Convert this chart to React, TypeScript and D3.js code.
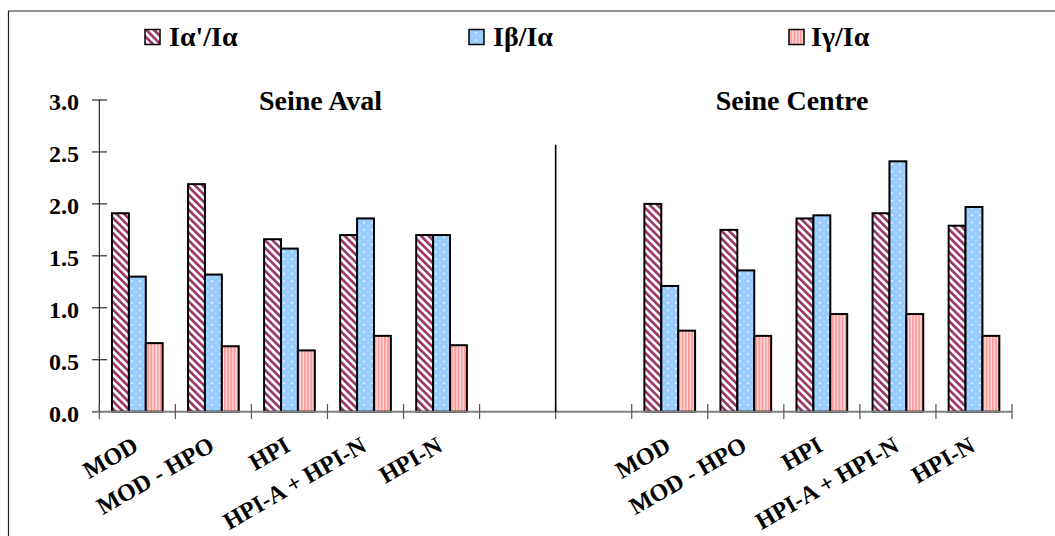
import React from "react";
import * as d3 from "d3";

const categories = ["MOD", "MOD - HPO", "HPI", "HPI-A + HPI-N", "HPI-N", "", "", "MOD", "MOD - HPO", "HPI", "HPI-A + HPI-N", "HPI-N"];
const seriesNames = ["Iα'/Iα", "Iβ/Iα", "Iγ/Iα"];
const alphaPrime = [1.91, 2.19, 1.66, 1.70, 1.70, null, null, 2.00, 1.75, 1.86, 1.91, 1.79];
const beta = [1.30, 1.32, 1.57, 1.86, 1.70, null, null, 1.21, 1.36, 1.89, 2.41, 1.97];
const gamma = [0.66, 0.63, 0.59, 0.73, 0.64, null, null, 0.78, 0.73, 0.94, 0.94, 0.73];
const yTicks = [0, 0.5, 1.0, 1.5, 2.0, 2.5, 3.0];
const groupTitles = ["Seine Aval", "Seine Centre"];
const separatorTop = 2.57;

const W = 1055;
const H = 536;
const FONT = "Liberation Serif, Times New Roman, Times, DejaVu Serif, serif";

export default function App() {
  const slots = categories.map((_, i) => String(i));
  const x = d3.scaleBand().domain(slots).range([99.3, 1012]).paddingInner(0).paddingOuter(0);
  const y = d3.scaleLinear().domain([0, 3]).range([411.7, 100]);
  const bw = x.bandwidth();
  const barW = bw / 4.5;
  const gapOff = (bw - 3 * barW) / 2;
  const series = [alphaPrime, beta, gamma];
  const fills = ["url(#pDiag)", "url(#pDots)", "url(#pVert)"];
  const legendX = [145, 469, 789];
  const legendTextX = [169, 493, 811];
  const txt = { fontFamily: FONT, fontWeight: 700 as const };

  return (
    <svg width={W} height={H} style={{ position: "absolute", left: 0, top: 0, background: "#fff", fontFamily: FONT }}>
      <defs>
        <pattern id="pDiag" patternUnits="userSpaceOnUse" width="5.4" height="10" patternTransform="rotate(-45)">
          <rect x="0" y="0" width="5.4" height="10" fill="#ffffff" />
          <rect x="0" y="0" width="2.6" height="10" fill="#993366" />
        </pattern>
        <pattern id="pDots" patternUnits="userSpaceOnUse" width="8" height="7.3">
          <rect x="0" y="0" width="8" height="7.3" fill="#99ccff" />
          <circle cx="4" cy="3.6" r="0.9" fill="#ffffff" />
          <circle cx="0" cy="0" r="0.7" fill="#e6f2ff" />
          <circle cx="8" cy="0" r="0.7" fill="#e6f2ff" />
          <circle cx="0" cy="7.3" r="0.7" fill="#e6f2ff" />
          <circle cx="8" cy="7.3" r="0.7" fill="#e6f2ff" />
        </pattern>
        <pattern id="pVert" patternUnits="userSpaceOnUse" width="3.2" height="10">
          <rect x="0" y="0" width="3.2" height="10" fill="#ffe0e0" />
          <rect x="0" y="0" width="1.9" height="10" fill="#ff9999" />
        </pattern>
      </defs>

      {/* frame */}
      <line x1={8} y1={11} x2={W} y2={11} stroke="#222" strokeWidth={1.2} />
      <line x1={8.5} y1={11} x2={8.5} y2={H} stroke="#222" strokeWidth={1.2} />

      {/* legend */}
      {seriesNames.map((n, i) => (
        <g key={n}>
          <rect x={legendX[i]} y={29.5} width={15} height={15} fill={fills[i]} stroke="#000" strokeWidth={1.5} />
          <text x={legendTextX[i]} y={46} fontSize={28} style={txt} fill="#000">{n}</text>
        </g>
      ))}

      {/* group titles */}
      <text x={320.5} y={110} fontSize={28} style={txt} textAnchor="middle">{groupTitles[0]}</text>
      <text x={792} y={110} fontSize={28} style={txt} textAnchor="middle">{groupTitles[1]}</text>

      {/* y axis */}
      <line x1={99.3} y1={y(3)} x2={99.3} y2={y(0)} stroke="#000" strokeWidth={1} />
      {yTicks.map((t) => (
        <g key={t}>
          <line x1={92} x2={107} y1={y(t)} y2={y(t)} stroke="#000" strokeWidth={1} />
          <text x={79} y={y(t) + 10} fontSize={24} style={txt} textAnchor="end">{t.toFixed(1)}</text>
        </g>
      ))}

      {/* bars */}
      {series.map((vals, si) =>
        vals.map((v, ci) =>
          v == null ? null : (
            <rect
              key={`${si}-${ci}`}
              x={(x(String(ci)) as number) + gapOff + si * barW}
              y={y(v)}
              width={barW}
              height={y(0) - y(v)}
              fill={fills[si]}
              stroke="#000"
              strokeWidth={2}
            />
          )
        )
      )}

      {/* x axis */}
      <line x1={92} x2={1012} y1={y(0)} y2={y(0)} stroke="#808080" strokeWidth={2} />
      {slots.concat(["end"]).map((s, i) => {
        const xx = i < slots.length ? (x(s) as number) : 1012;
        return <line key={s} x1={xx} x2={xx} y1={404} y2={419} stroke="#555" strokeWidth={1.2} />;
      })}

      {/* separator */}
      <line x1={x("6") as number} x2={x("6") as number} y1={y(separatorTop)} y2={y(0)} stroke="#000" strokeWidth={1.6} />

      {/* category labels */}
      {categories.map((c, i) =>
        c ? (
          <text
            key={i}
            transform={`translate(${(x(String(i)) as number) + bw / 2 - 5},437) rotate(-30)`}
            y={15}
            fontSize={24}
            style={txt}
            textAnchor="end"
          >
            {c}
          </text>
        ) : null
      )}
    </svg>
  );
}
